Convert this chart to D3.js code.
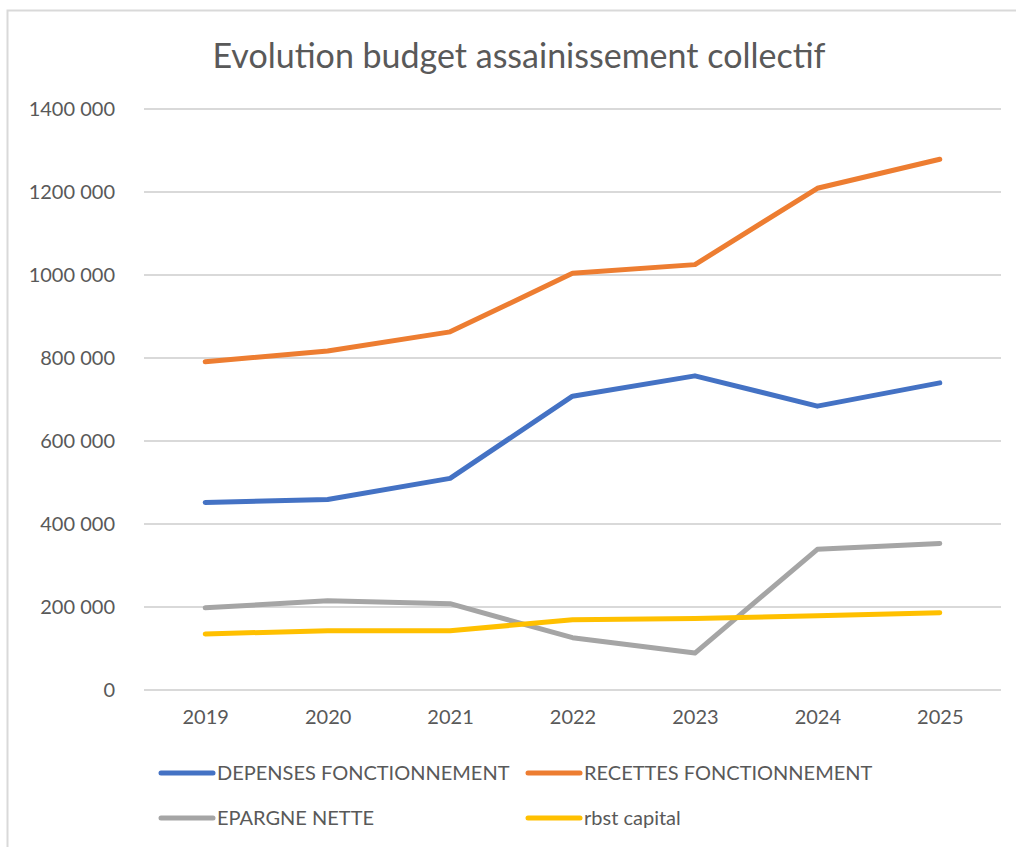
<!DOCTYPE html>
<html>
<head>
<meta charset="utf-8">
<script src="https://cdn.jsdelivr.net/npm/d3@7"></script>
<style>
  body { margin: 0; background: #fff; }
  text { font-family: Lato, "Liberation Sans", sans-serif; fill: #595959; }
</style>
</head>
<body>
<div id="chart"></div>
<script>
var years = ["2019", "2020", "2021", "2022", "2023", "2024", "2025"];
var depenses = [452000, 459000, 510000, 708000, 757000, 684000, 740000];
var recettes = [791000, 817000, 863000, 1004000, 1025000, 1209000, 1279000];
var epargne = [198000, 215000, 208000, 126000, 89000, 339000, 353000];
var rbst = [135000, 143000, 143000, 169000, 172000, 179000, 186000];
var yTicks = [0, 200000, 400000, 600000, 800000, 1000000, 1200000, 1400000];

var series = [
  {name: "DEPENSES FONCTIONNEMENT", values: depenses, color: "#4472C4"},
  {name: "RECETTES FONCTIONNEMENT", values: recettes, color: "#ED7D31"},
  {name: "EPARGNE NETTE", values: epargne, color: "#A5A5A5"},
  {name: "rbst capital", values: rbst, color: "#FFC000"}
];

var W = 1016, H = 847;
var margin = {top: 109, right: 15, bottom: 157, left: 144};
var width = W - margin.left - margin.right,
    height = H - margin.top - margin.bottom;

var svg = d3.select("#chart").append("svg")
    .attr("width", W)
    .attr("height", H);

// chart frame (runs off the right and bottom edges)
svg.append("rect")
    .attr("x", 7.5).attr("y", 10.5)
    .attr("width", W + 20).attr("height", H + 20)
    .attr("fill", "none")
    .attr("stroke", "#d9d9d9")
    .attr("stroke-width", 2);

svg.append("text")
    .attr("x", 519).attr("y", 68)
    .attr("text-anchor", "middle")
    .style("font-size", "34px")
    .text("Evolution budget assainissement collectif");

var g = svg.append("g")
    .attr("transform", "translate(" + margin.left + "," + margin.top + ")");

var x = d3.scalePoint()
    .domain(years)
    .range([0, width])
    .padding(0.5);

var y = d3.scaleLinear()
    .domain([0, 1400000])
    .range([height, 0]);

// excel style "# ##0" : only the last group split
var fmt = function(d) {
  if (d < 1000) return String(d);
  var s = String(d);
  return s.slice(0, -3) + " " + s.slice(-3);
};

// gridlines
g.selectAll(".grid")
    .data(yTicks)
    .enter().append("line")
    .attr("x1", 0).attr("x2", width)
    .attr("y1", function(d) { return y(d); })
    .attr("y2", function(d) { return y(d); })
    .attr("stroke", "#d9d9d9")
    .attr("stroke-width", 2);

var yAxis = g.append("g")
    .call(d3.axisLeft(y).tickValues(yTicks).tickFormat(fmt).tickSize(0).tickPadding(29));
yAxis.select(".domain").remove();
yAxis.selectAll("text")
    .style("font-size", "20px")
    .attr("fill", "#595959");

var xAxis = g.append("g")
    .attr("transform", "translate(0," + height + ")")
    .call(d3.axisBottom(x).tickSize(0).tickPadding(20));
xAxis.select(".domain").remove();
xAxis.selectAll("text")
    .style("font-size", "20px")
    .attr("fill", "#595959");

var line = d3.line()
    .x(function(d, i) { return x(years[i]); })
    .y(function(d) { return y(d); });

g.selectAll(".serie")
    .data(series)
    .enter().append("path")
    .attr("d", function(s) { return line(s.values); })
    .attr("fill", "none")
    .attr("stroke", function(s) { return s.color; })
    .attr("stroke-width", 5)
    .attr("stroke-linecap", "round")
    .attr("stroke-linejoin", "round");

// legend, 2 columns
var legend = svg.selectAll(".legend")
    .data(series)
    .enter().append("g")
    .attr("transform", function(d, i) {
      return "translate(" + (i % 2 ? 528 : 161) + "," + (i < 2 ? 773 : 818) + ")";
    });
legend.append("line")
    .attr("x1", 0).attr("x2", 52)
    .attr("stroke", function(d) { return d.color; })
    .attr("stroke-width", 5)
    .attr("stroke-linecap", "round");
legend.append("text")
    .attr("x", 56).attr("dy", "0.35em")
    .style("font-size", "20px")
    .text(function(d) { return d.name; });
</script>
</body>
</html>
